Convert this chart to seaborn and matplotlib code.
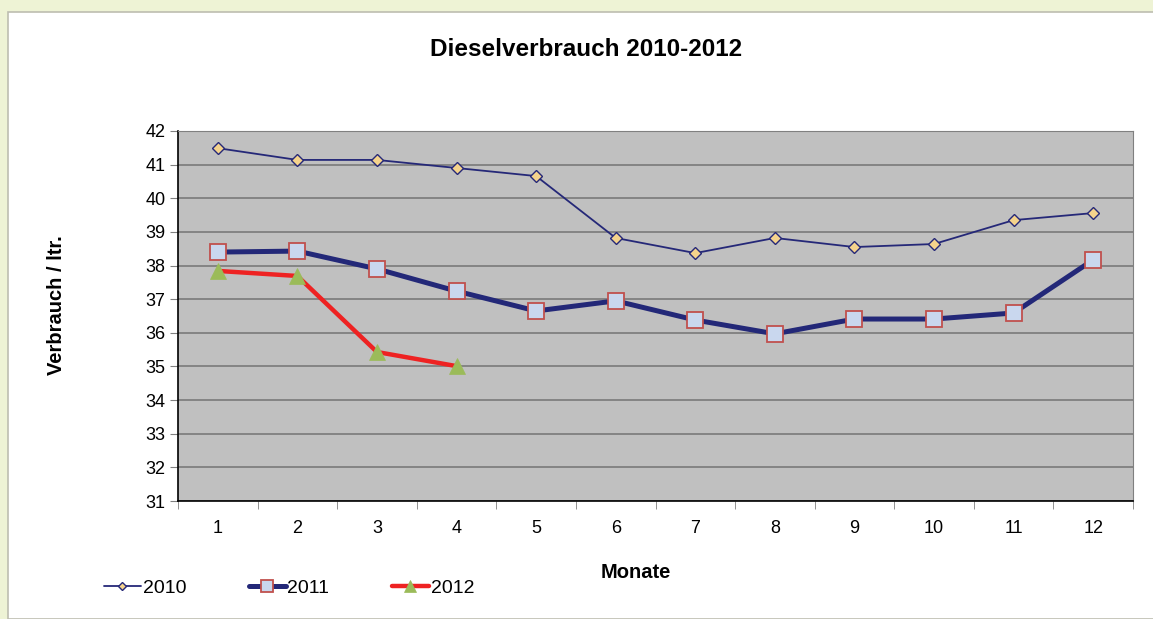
import pandas as pd
import matplotlib
matplotlib.use("Agg")
import matplotlib.pyplot as plt
import matplotlib.patches as mpatches
import seaborn as sns

# data
months = list(range(1, 13))
v2010 = [41.49, 41.14, 41.14, 40.90, 40.66, 38.82, 38.37, 38.82, 38.55, 38.64, 39.35, 39.56]
v2011 = [38.40, 38.43, 37.90, 37.24, 36.65, 36.95, 36.38, 35.97, 36.41, 36.41, 36.59, 38.17]
v2012 = [37.84, 37.69, 35.43, 35.01]
yticks = list(range(31, 43))

sns.set_style("white")
plt.rcParams['font.family'] = ['Liberation Sans', 'DejaVu Sans']
plt.rcParams['text.color'] = 'black'
plt.rcParams['xtick.color'] = 'black'
plt.rcParams['ytick.color'] = 'black'

fig = plt.figure(figsize=(11.53, 6.19), dpi=100)
fig.patch.set_facecolor('#EEF3D5')
# white inner panel
fig.patches.append(mpatches.Rectangle((8 / 1153, 0), 1, 1 - 12 / 619, transform=fig.transFigure,
                                      facecolor='white', edgecolor='#BDBDB0', lw=1.2, zorder=-1))

ax = fig.add_axes([178 / 1153, 1 - 501 / 619, (1133 - 178) / 1153, 370 / 619])
ax.set_facecolor('#C0C0C0')

styles = {
    '2010': dict(color='#252878', lw=1.3, marker='D', ms=6, mfc='#F5D38C', mec='#252878', mew=1.0),
    '2011': dict(color='#232878', lw=3.6, marker='s', ms=12, mfc='#C9D7EE', mec='#C0504D', mew=1.3),
    '2012': dict(color='#EE2222', lw=3.2, marker='^', ms=11, mfc='#9BBB59', mec='#9BBB59', mew=0.5),
}
series = {'2010': v2010, '2011': v2011, '2012': v2012}
for name, vals in series.items():
    df = pd.DataFrame({'Monat': months[:len(vals)], 'Verbrauch': vals})
    st = styles[name]
    sns.lineplot(data=df, x='Monat', y='Verbrauch', ax=ax, label=name, color=st['color'],
                 linewidth=st['lw'], marker=st['marker'], markersize=st['ms'],
                 markerfacecolor=st['mfc'], markeredgecolor=st['mec'], markeredgewidth=st['mew'],
                 zorder=3)

ax.set_xlim(0.5, 12.5)
ax.set_ylim(31, 42)
ax.set_yticks(yticks)
ax.set_yticklabels([str(t) for t in yticks], fontsize=13)
ax.set_xticks(months)
ax.set_xticklabels([str(m) for m in months], fontsize=13)
ax.set_xticks([m + 0.5 for m in [0] + months], minor=True)
ax.tick_params(axis='x', which='major', length=0, pad=14)
ax.tick_params(axis='x', which='minor', length=6, color='#808080', direction='out', bottom=True)
ax.tick_params(axis='y', length=6, color='#808080', direction='out', left=True, pad=3)
ax.grid(axis='y', color='#7A7A7A', lw=1.2)
ax.set_axisbelow(True)
ax.set_xlabel('')
ax.set_ylabel('')
for side in ['top', 'right']:
    ax.spines[side].set_visible(True)
    ax.spines[side].set_color('#808080')
for side in ['left', 'bottom']:
    ax.spines[side].set_color('black')
    ax.spines[side].set_linewidth(1.2)

ax.get_legend().remove()
handles, labels = ax.get_legend_handles_labels()
fig.legend(handles, labels, loc='center left', bbox_to_anchor=(104 / 1153, 1 - 588 / 619),
           ncol=3, frameon=False, fontsize=14, handlelength=1.9, handletextpad=0.1,
           columnspacing=3.2, markerscale=0.75, borderpad=0, borderaxespad=0)

fig.text(586 / 1153, 1 - 49 / 619, 'Dieselverbrauch 2010-2012', ha='center', va='center',
         fontsize=17.5, fontweight='bold')
fig.text(56 / 1153, 1 - 305 / 619, 'Verbrauch / ltr.', ha='center', va='center', rotation=90,
         fontsize=14.5, fontweight='bold')
fig.text(636 / 1153, 1 - 573 / 619, 'Monate', ha='center', va='center',
         fontsize=14.5, fontweight='bold')

fig.savefig('out.png', dpi=100, facecolor=fig.get_facecolor())
